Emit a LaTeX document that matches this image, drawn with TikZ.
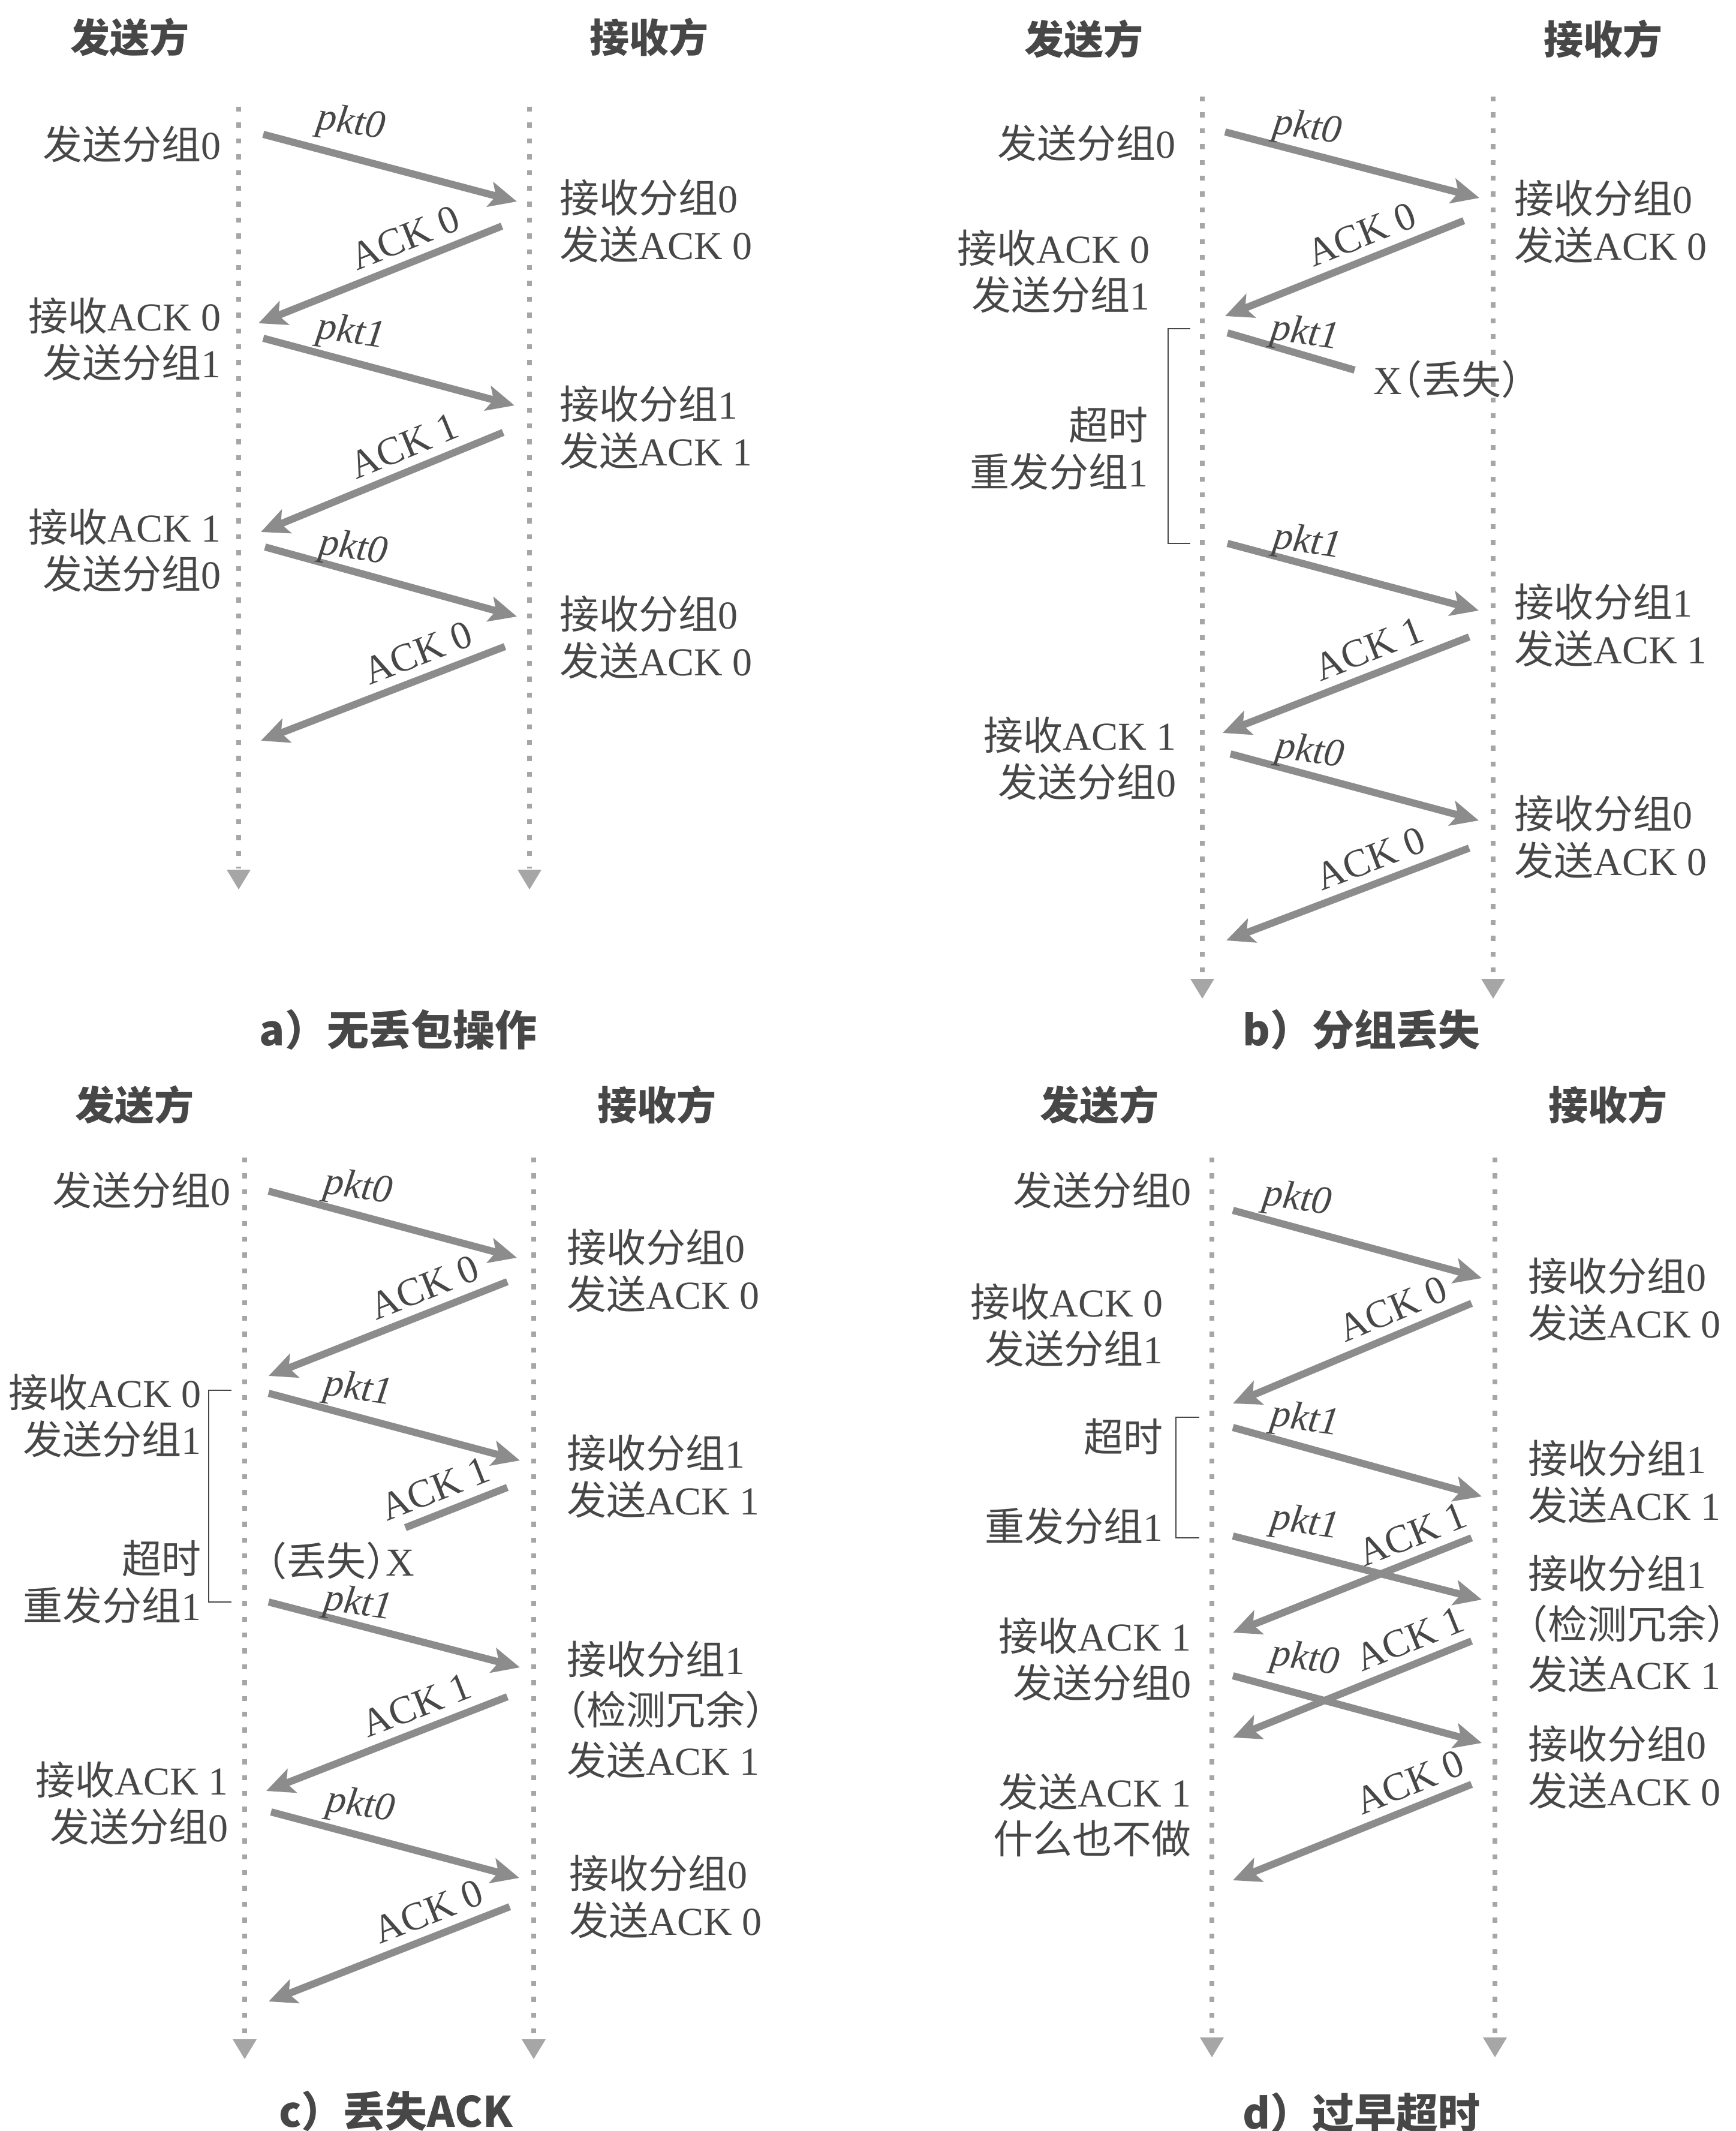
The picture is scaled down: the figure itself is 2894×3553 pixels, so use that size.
\documentclass[tikz,border=0pt]{standalone}
\usepackage{fontspec}
\setmainfont{Liberation Serif}
\newfontfamily\cjk{Noto Sans CJK SC}
\usetikzlibrary{arrows.meta}
\definecolor{tgray}{HTML}{474747}
\definecolor{agray}{HTML}{8C8C8C}
\definecolor{lgray}{HTML}{A6A6A6}
\newcommand{\zh}[1]{{\cjk #1}}
\newcommand{\lp}{\makebox[0.5em][r]{\cjk （}}
\newcommand{\rp}{\makebox[0.5em][l]{\cjk ）}}
\newcommand{\fs}{\fontsize{16.5}{19.5}\selectfont}
\tikzset{
  lifeline/.style={draw=lgray, line width=2.1pt, dash pattern=on 2.1pt off 4.5pt},
  endtri/.style={fill=lgray},
  msg/.style={draw=agray, line width=3pt, -{Stealth[length=11.5pt,width=10.5pt,inset=2.5pt]}},
  lostmsg/.style={draw=agray, line width=3pt},
  brk/.style={draw=tgray, line width=0.7pt},
  lbl/.style={text=tgray, font=\fs, inner sep=0pt},
  lft/.style={lbl, anchor=east, align=right},
  rgt/.style={lbl, anchor=west, align=left},
  pkt/.style={lbl, font=\fs\itshape, rotate=-8},
  ack/.style={lbl, sloped, above, outer sep=5pt},
  hdr/.style={text=tgray, font=\fs\cjk\bfseries, inner sep=0pt},
  captn/.style={text=tgray, font=\fontsize{17.5}{20}\selectfont\cjk\bfseries, inner sep=0pt}
}
\begin{document}
\begin{tikzpicture}[x=0.25pt,y=-0.25pt]
\useasboundingbox (0,0) rectangle (2894,3553);
\fill[white] (0,0) rectangle (2894,3553);

% ================= panel a =================
\node[hdr] (aS) at (216,62) {发送方};
\node[hdr] (aR) at (1082,62) {接收方};
\draw[lifeline] (398,178) -- (398,1448);
\fill[endtri] (378,1450) -- (418,1450) -- (398,1483) -- cycle;
\draw[lifeline] (883,178) -- (883,1448);
\fill[endtri] (863,1450) -- (903,1450) -- (883,1483) -- cycle;

\node[lft] (a1) at (369,240) {\zh{发送分组}0};
\node[lft] (a2) at (369,566) {\zh{接收}ACK 0\\\zh{发送分组}1};
\node[lft] (a3) at (369,918) {\zh{接收}ACK 1\\\zh{发送分组}0};
\node[rgt] (a4) at (933,369) {\zh{接收分组}0\\\zh{发送}ACK 0};
\node[rgt] (a5) at (933,713) {\zh{接收分组}1\\\zh{发送}ACK 1};
\node[rgt] (a6) at (933,1063) {\zh{接收分组}0\\\zh{发送}ACK 0};

\draw[msg] (439,224) -- (862,336);
\node[pkt] (ap1) at (585,207) {pkt0};
\draw[msg] (837,377) -- node[ack,pos=.36] (ak1) {ACK 0} (431,539);
\draw[msg] (439,564) -- (858,676);
\node[pkt] (ap2) at (585,556) {pkt1};
\draw[msg] (839,721) -- node[ack,pos=.37] (ak2) {ACK 1} (435,887);
\draw[msg] (442,912) -- (862,1028);
\node[pkt] (ap3) at (589,916) {pkt0};
\draw[msg] (842,1078) -- node[ack,pos=.32] (ak3) {ACK 0} (435,1235);

\node[captn] (aC) at (664,1717) {a）无丢包操作};

% ================= panel b =================
\node[hdr] (bS) at (1807,65) {发送方};
\node[hdr] (bR) at (2673,65) {接收方};
\draw[lifeline] (2005,161) -- (2005,1630);
\fill[endtri] (1985,1632) -- (2025,1632) -- (2005,1665) -- cycle;
\draw[lifeline] (2490,161) -- (2490,1630);
\fill[endtri] (2470,1632) -- (2510,1632) -- (2490,1665) -- cycle;

\node[lft] (b1) at (1961,238) {\zh{发送分组}0};
\node[lft] (b2) at (1918,453) {\zh{接收}ACK 0\\\zh{发送分组}1};
\node[lft] (b3) at (1915,748) {\zh{超时}\\\zh{重发分组}1};
\node[lft] (b4) at (1962,1265) {\zh{接收}ACK 1\\\zh{发送分组}0};
\node[rgt] (b5) at (2525,370) {\zh{接收分组}0\\\zh{发送}ACK 0};
\node[rgt] (b6) at (2525,1043) {\zh{接收分组}1\\\zh{发送}ACK 1};
\node[rgt] (b7) at (2525,1396) {\zh{接收分组}0\\\zh{发送}ACK 0};
\draw[brk] (1985,548) -- (1948,548) -- (1948,906) -- (1985,906);

\draw[msg] (2043,220) -- (2467,330);
\node[pkt] (bp1) at (2180,215) {pkt0};
\draw[msg] (2441,368) -- node[ack,pos=.39] (bk1) {ACK 0} (2043,527);
\draw[lostmsg] (2047,555) -- (2259,617);
\node[pkt] (bp2) at (2176,558) {pkt1};
\node[rgt] (bx) at (2290,632) {X\lp\zh{丢失}\rp};
\draw[msg] (2047,906) -- (2466,1018);
\node[pkt] (bp3) at (2180,906) {pkt1};
\draw[msg] (2450,1062) -- node[ack,pos=.37] (bk2) {ACK 1} (2039,1222);
\draw[msg] (2052,1257) -- (2466,1368);
\node[pkt] (bp4) at (2184,1255) {pkt0};
\draw[msg] (2450,1414) -- node[ack,pos=.37] (bk3) {ACK 0} (2045,1568);

\node[captn] (bC) at (2270,1717) {b）分组丢失};

% ================= panel c =================
\node[hdr] (cS) at (224,1842) {发送方};
\node[hdr] (cR) at (1095,1842) {接收方};
\draw[lifeline] (408,1930) -- (408,3398);
\fill[endtri] (388,3400) -- (428,3400) -- (408,3433) -- cycle;
\draw[lifeline] (890,1930) -- (890,3398);
\fill[endtri] (870,3400) -- (910,3400) -- (890,3433) -- cycle;

\node[lft] (c1) at (385,1984) {\zh{发送分组}0};
\node[lft] (c2) at (336,2360) {\zh{接收}ACK 0\\\zh{发送分组}1};
\node[lft] (c3) at (336,2637) {\zh{超时}\\\zh{重发分组}1};
\node[lft] (c4) at (381,3006) {\zh{接收}ACK 1\\\zh{发送分组}0};
\node[rgt] (c5) at (945,2118) {\zh{接收分组}0\\\zh{发送}ACK 0};
\node[rgt] (c6) at (945,2461) {\zh{接收分组}1\\\zh{发送}ACK 1};
\node[rgt,font=\fontsize{16.5}{21}\selectfont] (c7) at (945,2850) {\zh{接收分组}1\\\lp\zh{检测冗余}\rp\\\zh{发送}ACK 1};
\node[rgt] (c8) at (949,3162) {\zh{接收分组}0\\\zh{发送}ACK 0};
\draw[brk] (386,2318) -- (348,2318) -- (348,2671) -- (386,2671);

\draw[msg] (448,1986) -- (862,2097);
\node[pkt] (cp1) at (597,1982) {pkt0};
\draw[msg] (846,2137) -- node[ack,pos=.31] (ck1) {ACK 0} (448,2294);
\draw[msg] (448,2323) -- (867,2435);
\node[pkt] (cp2) at (597,2318) {pkt1};
\draw[lostmsg] (846,2480) -- node[ack,pos=.62] (ck2) {ACK 1} (676,2547);
\node[lbl] (cx) at (568,2602) {\lp\zh{丢失}\rp X};
\draw[msg] (448,2671) -- (867,2780);
\node[pkt] (cp3) at (597,2676) {pkt1};
\draw[msg] (846,2829) -- node[ack,pos=.34] (ck3) {ACK 1} (444,2986);
\draw[msg] (452,3021) -- (866,3131);
\node[pkt] (cp4) at (601,3012) {pkt0};
\draw[msg] (850,3179) -- node[ack,pos=.30] (ck4) {ACK 0} (448,3337);

\node[captn] (cC) at (660,3520) {c）丢失ACK};

% ================= panel d =================
\node[hdr] (dS) at (1833,1842) {发送方};
\node[hdr] (dR) at (2681,1842) {接收方};
\draw[lifeline] (2021,1930) -- (2021,3395);
\fill[endtri] (2001,3397) -- (2041,3397) -- (2021,3430) -- cycle;
\draw[lifeline] (2493,1930) -- (2493,3395);
\fill[endtri] (2473,3397) -- (2513,3397) -- (2493,3430) -- cycle;

\node[lft] (d1) at (1987,1984) {\zh{发送分组}0};
\node[lft] (d2) at (1940,2209) {\zh{接收}ACK 0\\\zh{发送分组}1};
\node[lft] (d3) at (1940,2395) {\zh{超时}};
\node[lft] (d4) at (1940,2544) {\zh{重发分组}1};
\node[lft] (d5) at (1987,2766) {\zh{接收}ACK 1\\\zh{发送分组}0};
\node[lft] (d6) at (1987,3026) {\zh{发送}ACK 1\\\zh{什么也不做}};
\node[rgt] (d7) at (2548,2166) {\zh{接收分组}0\\\zh{发送}ACK 0};
\node[rgt] (d8) at (2548,2470) {\zh{接收分组}1\\\zh{发送}ACK 1};
\node[rgt,font=\fontsize{16.5}{21}\selectfont] (d9) at (2548,2707) {\zh{接收分组}1\\\lp\zh{检测冗余}\rp\\\zh{发送}ACK 1};
\node[rgt] (d10) at (2548,2946) {\zh{接收分组}0\\\zh{发送}ACK 0};
\draw[brk] (2000,2363) -- (1961,2363) -- (1961,2564) -- (2000,2564);

\draw[msg] (2056,2018) -- (2471,2131);
\node[pkt] (dp1) at (2163,2001) {pkt0};
\draw[msg] (2454,2173) -- node[ack,pos=.29] (dk1) {ACK 0} (2056,2340);
\draw[msg] (2056,2380) -- (2471,2495);
\node[pkt] (dp2) at (2176,2369) {pkt1};
\draw[msg] (2056,2561) -- (2471,2667);
\node[pkt] (dp3) at (2176,2541) {pkt1};
\draw[msg] (2454,2564) -- node[ack,pos=.21] (dk2) {ACK 1} (2056,2722);
\draw[msg] (2056,2794) -- (2471,2906);
\node[pkt] (dp4) at (2176,2768) {pkt0};
\draw[msg] (2454,2736) -- node[ack,pos=.22] (dk3) {ACK 1} (2056,2897);
\draw[msg] (2454,2975) -- node[ack,pos=.22] (dk4) {ACK 0} (2056,3135);

\node[captn] (dC) at (2270,3523) {d）过早超时};
\end{tikzpicture}
\end{document}
